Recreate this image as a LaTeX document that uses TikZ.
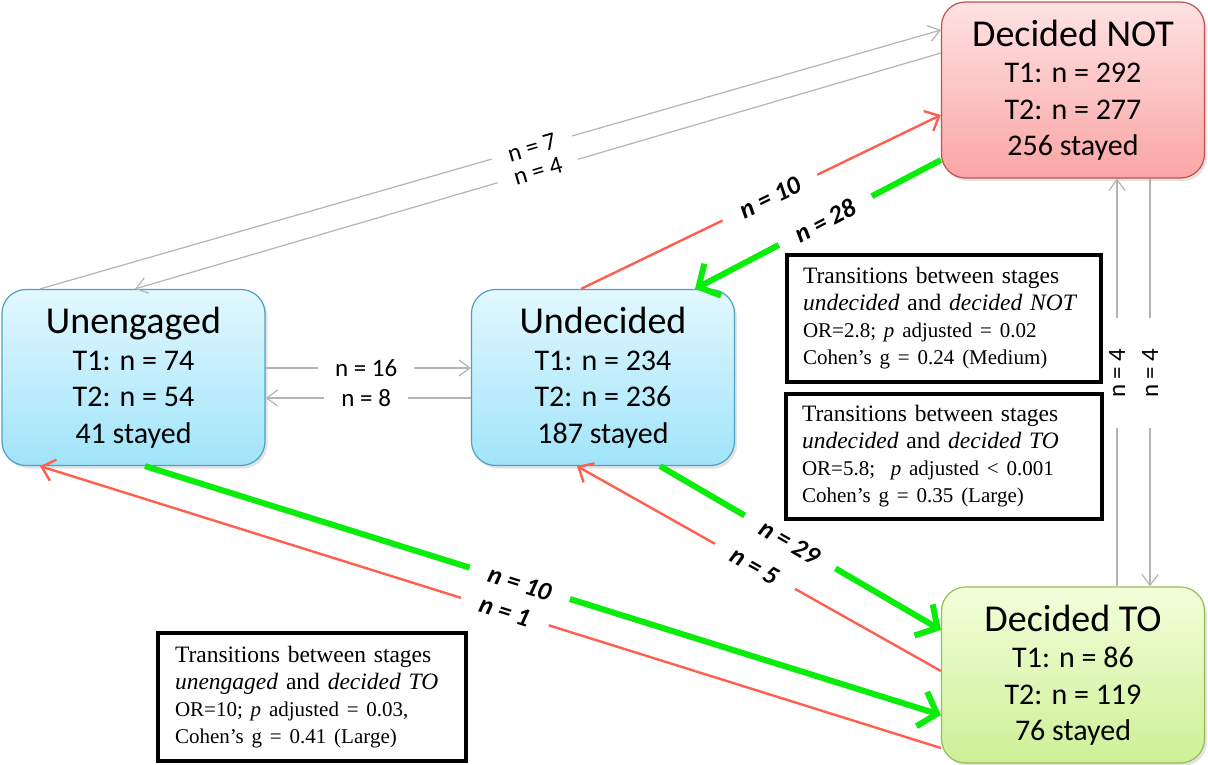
\documentclass[tikz,border=0pt]{standalone}
\usepackage{fontspec}
\setmainfont{Liberation Serif}
\newfontfamily\calib{Carlito}
\usetikzlibrary{arrows.meta,shadows}
\definecolor{blueTop}{RGB}{226,248,254}
\definecolor{blueBot}{RGB}{160,228,250}
\definecolor{blueBd}{RGB}{80,160,195}
\definecolor{pinkTop}{RGB}{255,226,226}
\definecolor{pinkBot}{RGB}{250,165,165}
\definecolor{pinkBd}{RGB}{195,80,78}
\definecolor{grnTop}{RGB}{242,255,218}
\definecolor{grnBot}{RGB}{205,240,150}
\definecolor{grnBd}{RGB}{150,190,85}
\definecolor{lineGray}{RGB}{180,180,180}
\definecolor{lineRed}{RGB}{255,95,80}
\definecolor{lineGreen}{RGB}{10,236,10}
\begin{document}
\begin{tikzpicture}[x=1pt,y=1pt,
  stage/.style={rounded corners=24pt, minimum width=263pt, minimum height=176pt,
    inner sep=0pt, align=center, line width=1.2pt,
    font=\calib\fontsize{30}{36.5}\selectfont,
    drop shadow={opacity=0.22,shadow xshift=2.5pt,shadow yshift=-3pt}},
  bluestage/.style={stage, draw=blueBd, top color=blueTop, bottom color=blueBot},
  pinkstage/.style={stage, draw=pinkBd, top color=pinkTop, bottom color=pinkBot},
  greenstage/.style={stage, draw=grnBd, top color=grnTop, bottom color=grnBot},
  lab/.style={fill=white, inner xsep=17pt, inner ysep=1pt, sloped,
    font=\calib\fontsize{25}{25}\selectfont},
  blab/.style={lab, inner xsep=20pt, font=\calib\bfseries\itshape\fontsize{26}{26}\selectfont},
  vlab/.style={fill=white, inner xsep=30pt, inner ysep=1pt, rotate=90,
    font=\calib\fontsize{25}{25}\selectfont},
  gline/.style={draw=lineGray, line width=1.2pt, -{Straight Barb[length=11pt,width=16pt]}},
  rline/.style={draw=lineRed, line width=2.4pt, -{Straight Barb[length=12pt,width=22pt]}},
  gthick/.style={draw=lineGreen, line width=6pt, -{Straight Barb[length=16pt,width=36pt]}},
  infobox/.style={draw=black, line width=3.3pt, fill=white, align=left,
    inner xsep=16pt, inner ysep=0pt, font=\fontsize{23.5}{27}\selectfont}
]
\useasboundingbox (0,0) rectangle (1208,-765);

\newcommand\ttl[1]{{\fontsize{38}{36.5}\selectfont #1}}
\newcommand\sml[1]{{\fontsize{21}{27}\selectfont #1}}

\node[bluestage] (un) at (133.5,-377.5) {\ttl{Unengaged}\\T1: n = 74\\T2: n = 54\\41 stayed};
\node[bluestage] (ud) at (603,-377.5) {\ttl{Undecided}\\T1: n = 234\\T2: n = 236\\187 stayed};
\node[pinkstage] (dn) at (1073,-90) {\ttl{Decided NOT}\\T1: n = 292\\T2: n = 277\\256 stayed};
\node[greenstage] (dt) at (1073,-675) {\ttl{Decided TO}\\T1: n = 86\\T2: n = 119\\76 stayed};

% gray connectors
\draw[gline] ([yshift=9.5pt]un.east) -- node[lab, pos=0.49] {n = 16} ([yshift=9.5pt]ud.west);
\draw[gline] ([yshift=-20.5pt]ud.west) -- node[lab, pos=0.51] {n = 8} ([yshift=-20.5pt]un.east);
\draw[gline] ([xshift=-93.5pt]un.north) -- node[lab, pos=0.546] {n = 7} ([yshift=60pt]dn.west);
\draw[gline] ([yshift=37pt]dn.west) -- node[lab, pos=0.5] {n = 4} ([xshift=1.5pt]un.north);
\draw[gline] ([xshift=44pt]dt.north) -- node[vlab, pos=0.523] {n = 4} ([xshift=44pt]dn.south);
\draw[gline] ([xshift=77pt]dn.south) -- node[vlab, pos=0.477] {n = 4} ([xshift=77pt]dt.north);

% red connectors
\draw[rline] ([xshift=-22pt]ud.north) -- node[blab, pos=0.525] {n = 10} ([yshift=-25pt]dn.west);
\draw[rline] ([yshift=-73pt]dt.west) -- node[blab, pos=0.484] {n = 1} ([xshift=-93.5pt]un.south);
\draw[rline] ([yshift=4pt]dt.west) -- node[blab, pos=0.511] {n = 5} ([xshift=-26pt]ud.south);

% green connectors
\draw[gthick] ([yshift=-70pt]dn.west) -- node[blab, pos=0.47] {n = 28} ([xshift=92pt]ud.north);
\draw[gthick] ([xshift=11.5pt]un.south) -- node[blab, pos=0.471] {n = 10} ([yshift=-40pt]dt.west);
\draw[gthick] ([xshift=57pt]ud.south) -- node[blab, pos=0.463] {n = 29} ([yshift=45pt]dt.west);

% info boxes
\node[infobox, text width=282pt, minimum height=127pt] (ba) at (944,-318.5)
  {Transitions between stages\\\emph{undecided} and \emph{decided NOT}\\
   \sml{OR=2.8; \emph{p} adjusted = 0.02}\\\sml{Cohen’s g = 0.24 (Medium)}};
\node[infobox, text width=284pt, minimum height=125pt] (bb) at (944,-456.5)
  {Transitions between stages\\\emph{undecided} and \emph{decided TO}\\
   \sml{OR=5.8;~ \emph{p} adjusted < 0.001}\\\sml{Cohen’s g = 0.35 (Large)}};
\node[infobox, text width=274pt, inner xsep=17pt, minimum height=128pt] (bc) at (312,-697)
  {Transitions between stages\\\emph{unengaged} and \emph{decided TO}\\
   \sml{OR=10; \emph{p} adjusted = 0.03,}\\\sml{Cohen’s g = 0.41 (Large)}};
\end{tikzpicture}
\end{document}
